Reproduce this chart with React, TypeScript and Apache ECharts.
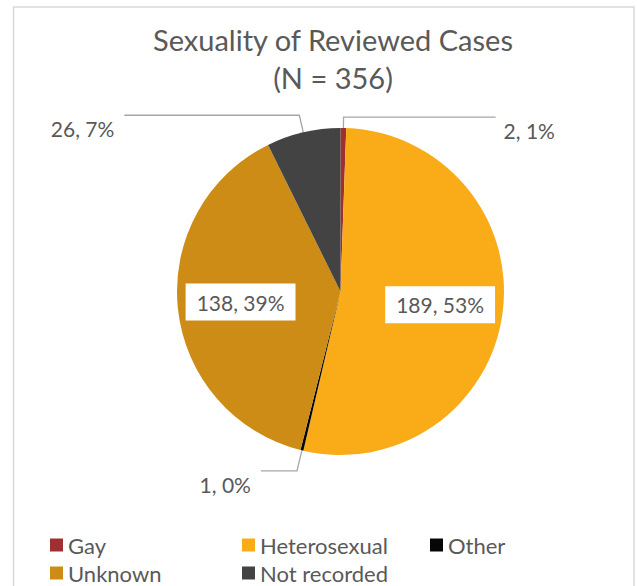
import React, { useEffect, useRef } from 'react';
import * as echarts from 'echarts';

const titleText = 'Sexuality of Reviewed Cases\n(N = 356)';
const categories = ['Gay', 'Heterosexual', 'Other', 'Unknown', 'Not recorded'];
const values = [2, 189, 1, 138, 26];
const palette = ['#A0302F', '#FAAB18', '#060606', '#CD8C15', '#434343'];
const insideLabelled = ['Heterosexual', 'Unknown'];

const outsideLabelStyle: Record<string, { length: number; length2: number; dist: number }> = {
  Gay: { length: 11, length2: 152, dist: 8 },
  Other: { length: 21, length2: 36, dist: 10 },
  'Not recorded': { length: 17.5, length2: 175, dist: 10 },
};

const legendPlacement = [
  { left: 50, top: 532 },
  { left: 242, top: 532 },
  { left: 430, top: 532 },
  { left: 50, top: 560 },
  { left: 242, top: 560 },
];

const FONT = 'Lato, "Open Sans", sans-serif';
const TEXT = '#595959';

export default function App() {
  const ref = useRef<HTMLDivElement>(null);
  useEffect(() => {
    document.body.style.margin = '0';
    if (!ref.current) return;
    const chart = echarts.init(ref.current, undefined, { renderer: 'svg' });
    const center = [340.5, 291.5];
    chart.setOption({
      animation: false,
      title: {
        text: titleText,
        left: 333,
        top: 20,
        padding: 0,
        textAlign: 'center',
        textStyle: { fontFamily: FONT, fontSize: 29, fontWeight: 'normal', color: TEXT, lineHeight: 38 },
      },
      graphic: [
        {
          type: 'rect',
          shape: { x: 13.5, y: 7, width: 620.5, height: 700 },
          style: { fill: 'none', stroke: '#d9d9d9', lineWidth: 1.5 },
          silent: true,
        },
      ],
      legend: categories.map((name, i) => ({
        data: [name],
        left: legendPlacement[i].left,
        top: legendPlacement[i].top,
        padding: 0,
        icon: 'rect',
        itemWidth: 13,
        itemHeight: 13,
        selectedMode: false,
        textStyle: { fontFamily: FONT, fontSize: 22, color: TEXT, lineHeight: 26 },
      })),
      series: [
        {
          type: 'pie',
          center,
          radius: [0, 163.5],
          startAngle: 90,
          clockwise: true,
          avoidLabelOverlap: false,
          percentPrecision: 0,
          silent: true,
          itemStyle: { borderWidth: 0 },
          label: {
            show: true,
            position: 'outside',
            formatter: '\n{c}, {d}%',
            fontFamily: FONT,
            fontSize: 21,
            lineHeight: 27,
            color: TEXT,
          },
          labelLine: { show: true, lineStyle: { color: '#a6a6a6', width: 1.3 } },
          data: categories.map((name, i) => {
            const inside = insideLabelled.includes(name);
            const s = outsideLabelStyle[name];
            return {
              name,
              value: values[i],
              itemStyle: { color: palette[i] },
              label: inside ? { show: false } : { distanceToLabelLine: s.dist },
              labelLine: inside ? { show: false } : { length: s.length, length2: s.length2 },
            };
          }),
        },
        {
          type: 'pie',
          center,
          radius: [31.5, 163.5],
          startAngle: 90,
          clockwise: true,
          avoidLabelOverlap: false,
          percentPrecision: 0,
          silent: true,
          itemStyle: { color: 'rgba(0,0,0,0)', borderWidth: 0 },
          label: {
            show: true,
            position: 'inside',
            formatter: '{c}, {d}%',
            fontFamily: FONT,
            fontSize: 21,
            color: TEXT,
            backgroundColor: '#ffffff',
            padding: [8, 11],
          },
          labelLine: { show: false },
          data: categories.map((name, i) => ({
            name,
            value: values[i],
            label: { show: insideLabelled.includes(name) },
          })),
        },
      ],
    });
    return () => chart.dispose();
  }, []);
  return <div ref={ref} style={{ width: 637, height: 586 }} />;
}
